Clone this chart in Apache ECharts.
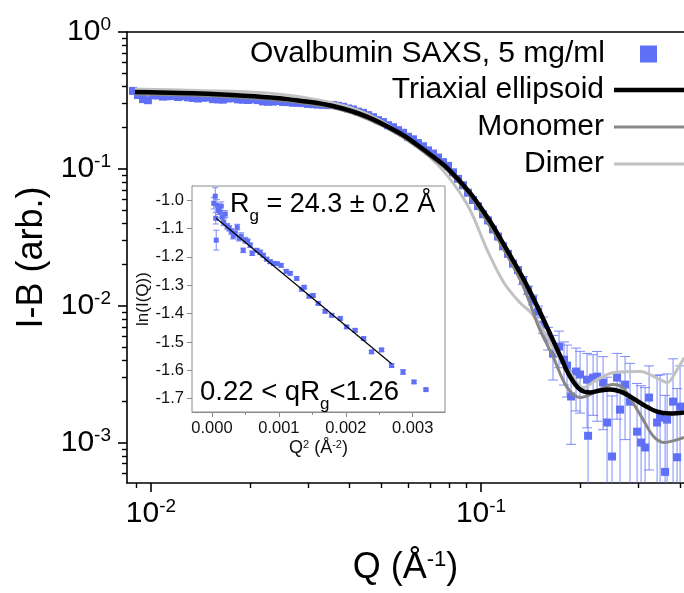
<!DOCTYPE html>
<html>
<head>
<meta charset="utf-8">
<script src="https://cdn.jsdelivr.net/npm/echarts@6/dist/echarts.min.js"></script>
<style>
  html, body { margin: 0; padding: 0; background: #fff; }
  #chart { width: 684px; height: 593px; }
</style>
</head>
<body>
<div id="chart"></div>
<script>
// ---------- Ovalbumin SAXS profile (Q in 1/Å, background-subtracted intensity) ----------
const qData = [
  0.00882, 0.00913, 0.00946, 0.00979, 0.01014, 0.01050, 0.01087, 0.01126, 0.01166, 0.01207,
  0.01250, 0.01294, 0.01340, 0.01388, 0.01437, 0.01488, 0.01541, 0.01596, 0.01652, 0.01711,
  0.01772, 0.01835, 0.01900, 0.01967, 0.02037, 0.02109, 0.02184, 0.02262, 0.02342, 0.02425,
  0.02512, 0.02601, 0.02693, 0.02789, 0.02888, 0.02990, 0.03097, 0.03206, 0.03320, 0.03438,
  0.03560, 0.03686, 0.03817, 0.03953, 0.04093, 0.04238, 0.04389, 0.04544, 0.04706, 0.04873,
  0.05046, 0.05225, 0.05410, 0.05602, 0.05801, 0.06007, 0.06220, 0.06441, 0.06669, 0.06906,
  0.07151, 0.07405, 0.07668, 0.07943, 0.08225, 0.08517, 0.08819, 0.09132, 0.09456, 0.09793,
  0.1014, 0.1050, 0.1087, 0.1126, 0.1166, 0.1207, 0.1250, 0.1294, 0.1340, 0.1388,
  0.1437, 0.1489, 0.1541, 0.1596, 0.1652, 0.1723, 0.1784, 0.1822, 0.1874, 0.1940,
  0.1995, 0.2095, 0.2110, 0.2185, 0.2247, 0.2343, 0.2409, 0.2494, 0.2583, 0.2637,
  0.2731, 0.2828, 0.2970, 0.3054, 0.3140, 0.3229, 0.3415, 0.3487, 0.3611, 0.3662,
  0.3818, 0.3926, 0.4009
];
const iData = [
  0.3710, 0.3462, 0.3232, 0.3173, 0.3445, 0.3439, 0.3370, 0.3393, 0.3410, 0.3347,
  0.3393, 0.3331, 0.3297, 0.3264, 0.3308, 0.3325, 0.3232, 0.3216, 0.3205, 0.3270,
  0.3281, 0.3216, 0.3200, 0.3184, 0.3222, 0.3179, 0.3110, 0.3094, 0.3099, 0.3131,
  0.3078, 0.3073, 0.3042, 0.3037, 0.3021, 0.2981, 0.2966, 0.2951, 0.2936, 0.2921,
  0.2931, 0.2887, 0.2839, 0.2763, 0.2717, 0.2618, 0.2566, 0.2469, 0.2387, 0.2270,
  0.2195, 0.2084, 0.2015, 0.1916, 0.1834, 0.1715, 0.1644, 0.1543, 0.1462, 0.1365,
  0.1293, 0.1209, 0.1119, 0.1051, 0.0943, 0.0845, 0.0759, 0.0669, 0.0592, 0.0534,
  0.0466, 0.0420, 0.0361, 0.0320, 0.0272, 0.0239, 0.0203, 0.0182, 0.0153, 0.0130,
  0.01106, 0.00904, 0.00727, 0.00584, 0.00446, 0.00502, 0.00403, 0.00365, 0.00217, 0.00330,
  0.00314, 0.00288, 0.00112, 0.00298, 0.00303, 0.00274, 0.00140, 0.00079, 0.00298, 0.00174,
  0.00265, 0.00199, 0.00120, 0.00100, 0.00092, 0.00213, 0.00140, 0.00152, 0.00061, 0.00147,
  0.00199, 0.00078, 0.00183
];
// uncertainties; 0 where the bar is smaller than the marker
const iErr = [
  0, 0, 0, 0, 0, 0, 0, 0, 0, 0,
  0, 0, 0, 0, 0, 0, 0, 0, 0, 0,
  0, 0, 0, 0, 0, 0, 0, 0, 0, 0,
  0, 0, 0, 0, 0, 0, 0, 0, 0, 0,
  0, 0, 0, 0, 0, 0, 0, 0, 0, 0,
  0, 0, 0, 0, 0, 0, 0, 0, 0, 0,
  0, 0, 0, 0, 0, 0, 0, 0, 0, 0,
  0, 0, 0, 0, 0, 0, 0, 0, 0.0010, 0.0009,
  0.0009, 0.0009, 0.0010, 0.0011, 0.0016, 0.0015, 0.0014, 0.0015, 0.0012, 0.0016,
  0.0015, 0.0016, 0.0018, 0.0014, 0.0016, 0.0015, 0.0016, 0.0014, 0.0015, 0.0015,
  0.0016, 0.0018, 0.0015, 0.0016, 0.0016, 0.0015, 0.0017, 0.0016, 0.0016, 0.0017,
  0.0021, 0.0017, 0.0018
];

// ---------- Model curves ----------
const qTriaxial = [
  0.00894, 0.01065, 0.01408, 0.01862, 0.02409, 0.02828, 0.0356, 0.0451, 0.0568, 0.0640,
  0.0715, 0.0789, 0.0926, 0.1043, 0.1118, 0.1313, 0.1408, 0.1507, 0.1618, 0.1735,
  0.1861, 0.1995, 0.2139, 0.2294, 0.2460, 0.2637, 0.2828, 0.3097, 0.3415, 0.3738, 0.4122
];
const iTriaxial = [
  0.365, 0.362, 0.356, 0.344, 0.330, 0.315, 0.288, 0.241, 0.182, 0.150,
  0.123, 0.1017, 0.0668, 0.0446, 0.0341, 0.0174, 0.01265, 0.00904, 0.00625, 0.00432,
  0.00303, 0.00244, 0.00232, 0.00240, 0.00244, 0.00236, 0.00217, 0.00189, 0.00168, 0.00163, 0.00166
];
const qMonomer = [
  0.00894, 0.01408, 0.02409, 0.0356, 0.0451, 0.0568, 0.0715, 0.0789, 0.0926, 0.1043,
  0.1118, 0.1313, 0.1408, 0.1507, 0.1653, 0.1816, 0.1995, 0.2139, 0.2294, 0.2507,
  0.2686, 0.2882, 0.3097, 0.3328, 0.3575, 0.3936, 0.4122
];
const iMonomer = [
  0.353, 0.344, 0.319, 0.279, 0.233, 0.176, 0.1186, 0.0984, 0.0635, 0.0410,
  0.0314, 0.0155, 0.01034, 0.00668, 0.00425, 0.00256, 0.00213, 0.00224, 0.00244, 0.00265,
  0.00252, 0.00196, 0.00147, 0.00111, 0.00100, 0.00105, 0.00109
];
const qDimer = [
  0.00894, 0.01408, 0.02409, 0.0356, 0.0451, 0.0568, 0.0715, 0.0822, 0.0926, 0.1043,
  0.1173, 0.1313, 0.1408, 0.1507, 0.1700, 0.1900, 0.2037, 0.2246, 0.2512, 0.3032,
  0.3486, 0.3662, 0.3926, 0.4122
];
const iDimer = [
  0.384, 0.374, 0.353, 0.303, 0.252, 0.183, 0.116, 0.079, 0.0502, 0.0256,
  0.0147, 0.0105, 0.00904, 0.00727, 0.00439, 0.00303, 0.00252, 0.00288, 0.00324, 0.00330,
  0.00288, 0.00274, 0.00341, 0.00417
];

// ---------- Guinier region (inset) ----------
const q2Data = [
  0.000027, 0.000049, 0.000057, 0.000064, 0.000075, 0.000094, 0.000124, 0.000139, 0.000154, 0.000176,
  0.000199, 0.000228, 0.000258, 0.000288, 0.000318, 0.000348, 0.000378, 0.000407, 0.000437, 0.000467,
  0.000497, 0.000534, 0.000572, 0.000601, 0.000669, 0.000721, 0.000766, 0.000818, 0.000870, 0.000922,
  0.000975, 0.001034, 0.001109, 0.001169, 0.001266, 0.001340, 0.001378, 0.001452, 0.001512, 0.001588,
  0.001691, 0.001790, 0.001918, 0.002012, 0.002139, 0.002266, 0.002385, 0.002534, 0.002684, 0.002855,
  0.003019, 0.003197
];
const lnData = [
  -1.011, -0.986, -1.064, -1.141, -1.018, -1.035, -1.042, -1.021, -1.060, -1.078,
  -1.049, -1.092, -1.099, -1.110, -1.127, -1.117, -1.095, -1.134, -1.127, -1.177,
  -1.141, -1.145, -1.159, -1.187, -1.177, -1.184, -1.194, -1.208, -1.217, -1.223,
  -1.224, -1.230, -1.251, -1.258, -1.276, -1.314, -1.307, -1.339, -1.336, -1.364,
  -1.392, -1.406, -1.417, -1.447, -1.459, -1.488, -1.535, -1.528, -1.583, -1.606,
  -1.641, -1.668
];
const lnErr = [
  0.020, 0.030, 0.020, 0.035, 0.020, 0.015, 0.020, 0.015, 0.015, 0.012,
  0.012, 0.010, 0.010, 0.010, 0.010, 0.012, 0.010, 0.010, 0.012, 0.008,
  0.010, 0.008, 0.008, 0.008, 0.007, 0.008, 0.006, 0.006, 0.006, 0.006,
  0.005, 0.006, 0.006, 0.005, 0.005, 0.006, 0.005, 0.005, 0.005, 0.005,
  0.005, 0.005, 0.005, 0.005, 0.005, 0.005, 0.005, 0.005, 0.006, 0.008,
  0.005, 0.004
];
const fitQ2 = [0.000064, 0.002684];
const fitLn = [-1.064, -1.577];

// ---------- Tick values ----------
const xMajorTicks = [0.01, 0.1];
const xMinorTicks = [0.009, 0.02, 0.03, 0.04, 0.05, 0.06, 0.07, 0.08, 0.09, 0.2, 0.3, 0.4];
const yMajorTicks = [0.001, 0.01, 0.1, 1];
const yMinorTicks = [0.0006, 0.0007, 0.0008, 0.0009,
  0.002, 0.003, 0.004, 0.005, 0.006, 0.007, 0.008, 0.009,
  0.02, 0.03, 0.04, 0.05, 0.06, 0.07, 0.08, 0.09,
  0.2, 0.3, 0.4, 0.5, 0.6, 0.7, 0.8, 0.9];
const insetXTicks = [0, 0.001, 0.002, 0.003];
const insetXMinor = [0.0005, 0.0015, 0.0025];
const insetYTicks = [-1.7, -1.6, -1.5, -1.4, -1.3, -1.2, -1.1, -1.0];
const insetYMinor = [-1.65, -1.55, -1.45, -1.35, -1.25, -1.15, -1.05];

// ---------- Styling ----------
const FONT = "'Liberation Sans', Arial, Helvetica, sans-serif";
const BLUE = '#5f70f6';
const FRAME_GRAY = '#8a8a8a';
const Q_RANGE = [0.00846, 0.412];
const I_RANGE = [0.000506, 1];
const INSET_X = [-0.000298, 0.003482];
const INSET_Y = [-1.747, -0.95];

const SERIES_DATA = 'Ovalbumin SAXS, 5 mg/ml';

function decadeLabel(v) {
  const e = Math.round(Math.log10(v));
  return '{b|10}{s|' + e + '}';
}
const decadeRich = {
  b: { fontFamily: FONT, fontSize: 30, color: '#000' },
  s: { fontFamily: FONT, fontSize: 19, color: '#000', padding: [0, 0, 14, 0] }
};

// vertical error bars drawn through the axes' own coordinate mapping
function errorBars(capHalf, logY, width) {
  return function (params, api) {
    const x = api.value(0);
    const lo = api.value(1);
    const hi = api.value(2);
    if (!(hi > lo)) return null;
    const cs = params.coordSys;
    const yTop = cs.y, yBot = cs.y + cs.height;
    const pHi = api.coord([x, hi]);
    const px = pHi[0];
    const loOk = !logY || lo > 0;
    const yHi = pHi[1];
    const yLo = loOk ? api.coord([x, lo])[1] : yBot;
    const style = { stroke: BLUE, lineWidth: width, opacity: 0.8 };
    const children = [{
      type: 'line',
      shape: { x1: px, y1: Math.max(yHi, yTop), x2: px, y2: Math.min(yLo, yBot) },
      style: style
    }];
    if (yHi >= yTop) {
      children.push({ type: 'line', shape: { x1: px - capHalf, y1: yHi, x2: px + capHalf, y2: yHi }, style: style });
    }
    if (loOk && yLo <= yBot) {
      children.push({ type: 'line', shape: { x1: px - capHalf, y1: yLo, x2: px + capHalf, y2: yLo }, style: style });
    }
    return { type: 'group', children: children };
  };
}

const pairs = (xs, ys) => xs.map((x, i) => [x, ys[i]]);
const mainPoints = pairs(qData, iData);
const mainBars = qData.map((q, i) => [q, iData[i] - iErr[i], iData[i] + iErr[i]]);
const insetPoints = pairs(q2Data, lnData);
const insetBars = q2Data.map((q, i) => [q, lnData[i] - lnErr[i], lnData[i] + lnErr[i]]);

const legendText = { fontFamily: FONT, fontSize: 30, color: '#000', lineHeight: 32 };
function lineLegend(name, top, thickness) {
  return {
    orient: 'vertical', align: 'right', padding: 0, selectedMode: false,
    data: [{ name: name, icon: 'rect' }], right: -2, top: top, itemWidth: 72, itemHeight: thickness,
    textStyle: Object.assign({}, legendText, { padding: [0, 5, 0, 0] })
  };
}

const chart = echarts.init(document.getElementById('chart'), null, { renderer: 'canvas' });

chart.setOption({
  animation: false,
  backgroundColor: '#fff',
  grid: [
    { left: 127, top: 32, right: 0, bottom: 110 },
    { left: 192, top: 186, width: 253, height: 226, show: true, backgroundColor: '#fff',
      borderColor: FRAME_GRAY, borderWidth: 1, z: 10 }
  ],
  legend: [
    {
      orient: 'vertical', align: 'right', padding: 0, selectedMode: false,
      data: [{ name: SERIES_DATA, icon: 'rect' }], right: 27, top: 38, itemWidth: 17, itemHeight: 17,
      textStyle: Object.assign({}, legendText, { padding: [0, 30, 0, 0] })
    },
    lineLegend('Triaxial ellipsoid', 74, 4.5),
    lineLegend('Monomer', 111, 3),
    lineLegend('Dimer', 148, 3)
  ],
  xAxis: [
    { // main Q axis
      type: 'log', logBase: 10, gridIndex: 0, min: Q_RANGE[0], max: Q_RANGE[1],
      axisLine: { show: true, onZero: false, lineStyle: { color: '#000', width: 1.6 } },
      axisTick: { show: true, inside: false, length: 9, customValues: xMajorTicks, lineStyle: { color: '#000', width: 1.6 } },
      axisLabel: { show: true, customValues: xMajorTicks, formatter: decadeLabel, margin: 14, rich: decadeRich },
      splitLine: { show: false },
      name: '{t|Q (Å}{s|-1}{t|)}', nameLocation: 'middle', nameGap: 66,
      nameTextStyle: { rich: {
        t: { fontFamily: FONT, fontSize: 36, color: '#000' },
        s: { fontFamily: FONT, fontSize: 22, color: '#000', padding: [0, 0, 16, 0] }
      } }
    },
    { // minor ticks of the Q axis
      type: 'log', logBase: 10, gridIndex: 0, min: Q_RANGE[0], max: Q_RANGE[1], position: 'bottom',
      axisLine: { show: false },
      axisTick: { show: true, inside: false, length: 5, customValues: xMinorTicks, lineStyle: { color: '#000', width: 1.4 } },
      axisLabel: { show: false }, splitLine: { show: false }
    },
    { // top frame line
      type: 'log', logBase: 10, gridIndex: 0, min: Q_RANGE[0], max: Q_RANGE[1], position: 'top',
      axisLine: { show: true, lineStyle: { color: '#000', width: 1.6 } },
      axisTick: { show: false }, axisLabel: { show: false }, splitLine: { show: false }
    },
    { // inset Q^2 axis
      type: 'value', gridIndex: 1, min: INSET_X[0], max: INSET_X[1],
      axisLine: { show: true, onZero: false, lineStyle: { color: FRAME_GRAY, width: 1 } },
      axisTick: { show: true, inside: false, length: 5, customValues: insetXTicks, lineStyle: { color: FRAME_GRAY } },
      axisLabel: { show: true, customValues: insetXTicks, formatter: v => v.toFixed(3), margin: 8,
        fontFamily: FONT, fontSize: 16.5, color: '#111' },
      splitLine: { show: false },
      name: '{t|Q}{s|2}{t| (Å}{s|-2}{t|)}', nameLocation: 'middle', nameGap: 27,
      nameTextStyle: { rich: {
        t: { fontFamily: FONT, fontSize: 18, color: '#111' },
        s: { fontFamily: FONT, fontSize: 11, color: '#111', padding: [0, 0, 8, 0] }
      } }
    },
    { // inset minor ticks
      type: 'value', gridIndex: 1, min: INSET_X[0], max: INSET_X[1], position: 'bottom',
      axisLine: { show: false },
      axisTick: { show: true, inside: false, length: 3, customValues: insetXMinor, lineStyle: { color: FRAME_GRAY } },
      axisLabel: { show: false }, splitLine: { show: false }
    }
  ],
  yAxis: [
    { // main intensity axis
      type: 'log', logBase: 10, gridIndex: 0, min: I_RANGE[0], max: I_RANGE[1],
      axisLine: { show: true, onZero: false, lineStyle: { color: '#000', width: 1.6 } },
      axisTick: { show: true, inside: false, length: 9, customValues: yMajorTicks, lineStyle: { color: '#000', width: 1.6 } },
      axisLabel: { show: true, customValues: yMajorTicks, formatter: decadeLabel, margin: 16, rich: decadeRich },
      splitLine: { show: false },
      name: 'I-B (arb.)', nameLocation: 'middle', nameGap: 74, nameRotate: 90,
      nameTextStyle: { fontFamily: FONT, fontSize: 36, color: '#000' }
    },
    { // minor ticks of the intensity axis
      type: 'log', logBase: 10, gridIndex: 0, min: I_RANGE[0], max: I_RANGE[1], position: 'left',
      axisLine: { show: false },
      axisTick: { show: true, inside: false, length: 5, customValues: yMinorTicks, lineStyle: { color: '#000', width: 1.4 } },
      axisLabel: { show: false }, splitLine: { show: false }
    },
    { // inset ln(I) axis
      type: 'value', gridIndex: 1, min: INSET_Y[0], max: INSET_Y[1],
      axisLine: { show: true, onZero: false, lineStyle: { color: FRAME_GRAY, width: 1 } },
      axisTick: { show: true, inside: false, length: 5, customValues: insetYTicks, lineStyle: { color: FRAME_GRAY } },
      axisLabel: { show: true, customValues: insetYTicks, formatter: v => v.toFixed(1), margin: 8,
        fontFamily: FONT, fontSize: 16.5, color: '#111' },
      splitLine: { show: false },
      name: 'ln(I(Q))', nameLocation: 'middle', nameGap: 40, nameRotate: 90,
      nameTextStyle: { fontFamily: FONT, fontSize: 17, color: '#111' }
    },
    { // inset minor ticks
      type: 'value', gridIndex: 1, min: INSET_Y[0], max: INSET_Y[1], position: 'left',
      axisLine: { show: false },
      axisTick: { show: true, inside: false, length: 3, customValues: insetYMinor, lineStyle: { color: FRAME_GRAY } },
      axisLabel: { show: false }, splitLine: { show: false }
    }
  ],
  series: [
    {
      name: 'main-error', type: 'custom', xAxisIndex: 0, yAxisIndex: 0, z: 2,
      renderItem: errorBars(5, true, 1), encode: { x: 0, y: 2 }, data: mainBars, silent: true
    },
    {
      name: SERIES_DATA, type: 'scatter', xAxisIndex: 0, yAxisIndex: 0, z: 3,
      symbol: 'rect', symbolSize: 8, itemStyle: { color: BLUE, opacity: 1 }, data: mainPoints
    },
    {
      name: 'Dimer', type: 'line', xAxisIndex: 0, yAxisIndex: 0, z: 4, smooth: 0.35,
      symbol: 'none', lineStyle: { color: '#c2c2c2', width: 3 }, itemStyle: { color: '#c2c2c2' },
      data: pairs(qDimer, iDimer)
    },
    {
      name: 'Monomer', type: 'line', xAxisIndex: 0, yAxisIndex: 0, z: 5, smooth: 0.35,
      symbol: 'none', lineStyle: { color: '#878787', width: 3 }, itemStyle: { color: '#878787' },
      data: pairs(qMonomer, iMonomer)
    },
    {
      name: 'Triaxial ellipsoid', type: 'line', xAxisIndex: 0, yAxisIndex: 0, z: 6, smooth: 0.35,
      symbol: 'none', lineStyle: { color: '#000', width: 4.5 }, itemStyle: { color: '#000' },
      data: pairs(qTriaxial, iTriaxial)
    },
    {
      name: 'guinier-error', type: 'custom', xAxisIndex: 3, yAxisIndex: 2, z: 11,
      renderItem: errorBars(3, false, 1), encode: { x: 0, y: 2 }, data: insetBars, silent: true
    },
    {
      name: 'Guinier data', type: 'scatter', xAxisIndex: 3, yAxisIndex: 2, z: 12,
      symbol: 'rect', symbolSize: 5, itemStyle: { color: BLUE, opacity: 1 }, data: insetPoints
    },
    {
      name: 'Guinier fit', type: 'line', xAxisIndex: 3, yAxisIndex: 2, z: 13,
      symbol: 'none', lineStyle: { color: '#000', width: 1.2 }, data: pairs(fitQ2, fitLn)
    }
  ],
  graphic: [
    {
      type: 'text', left: 230, top: 191, z: 20,
      style: {
        text: '{a|R}{g|g}{a| = 24.3 ± 0.2 Å}',
        rich: {
          a: { fontFamily: FONT, fontSize: 27, fill: '#000' },
          g: { fontFamily: FONT, fontSize: 17, fill: '#000', padding: [24, 0, 0, 0] }
        }
      }
    },
    {
      type: 'text', left: 200, top: 378, z: 20,
      style: {
        text: '{a|0.22 < qR}{g|g}{a|<1.26}',
        rich: {
          a: { fontFamily: FONT, fontSize: 27.5, fill: '#000' },
          g: { fontFamily: FONT, fontSize: 17, fill: '#000', padding: [24, 0, 0, 0] }
        }
      }
    }
  ]
});
</script>
</body>
</html>
